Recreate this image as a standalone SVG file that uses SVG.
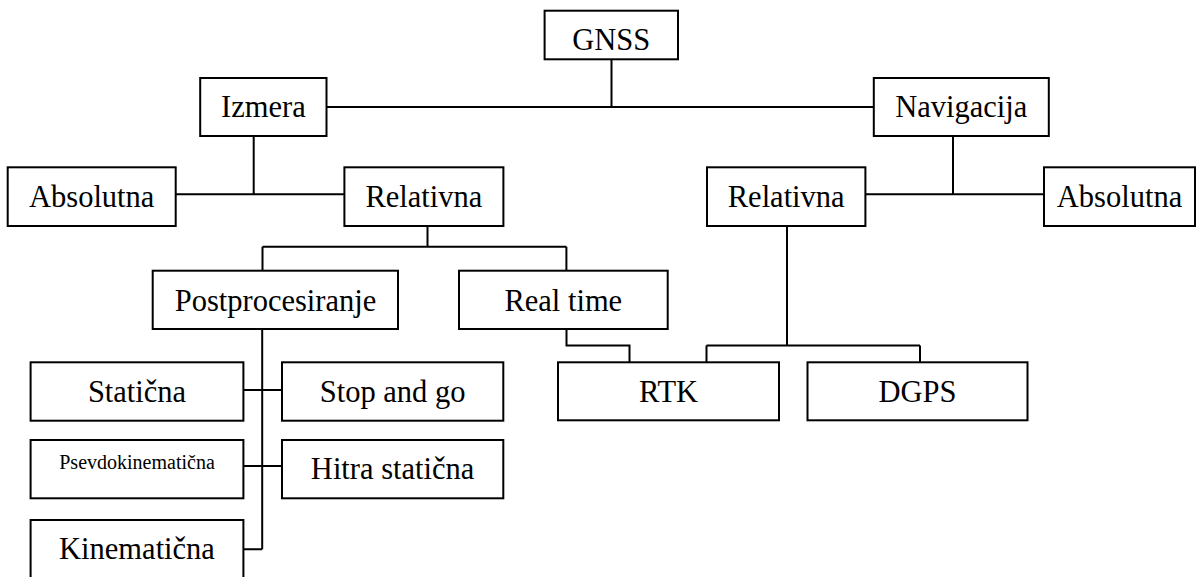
<svg xmlns="http://www.w3.org/2000/svg" width="1203" height="577" viewBox="0 0 1203 577">
<style>
rect{fill:#fff;stroke:#000;stroke-width:2}
text{font-family:"Liberation Serif","Times New Roman",serif;font-size:30.5px;fill:#000;text-anchor:middle}
.small{font-size:20px}
#connectors path{fill:none;stroke:#000;stroke-width:2}
</style>
<rect x="0" y="0" width="1203" height="577" style="stroke:none"/>
<g id="connectors">
<path d="M611.5,59.3V107M326.5,107H873.8"/>
<path d="M253.7,136V194.3M175.7,194.3H344.4"/>
<path d="M953,136V194.3M865.4,194.3H1044"/>
<path d="M427.5,226V246.7M262.5,246.7H566.4M262.5,246.7V270.7M566.4,246.7V270.7"/>
<path d="M566.5,329V345.5H629.5V362.3"/>
<path d="M787,226V345.5M706.5,345.5H920M706.5,345.5V362.3M920,345.5V362.3"/>
<path d="M262.2,329V549.3M243.4,390H282M243.4,466H282M243.4,549.3H262.2"/>
</g>
<g id="gnss"><rect x="544.6" y="10.7" width="133.4" height="48.6"/><text x="611.3" y="50">GNSS</text></g>
<g id="izmera"><rect x="200.2" y="78" width="126.3" height="58"/><text x="263.4" y="117">Izmera</text></g>
<g id="navigacija"><rect x="873.8" y="78" width="175" height="58"/><text x="961.3" y="117">Navigacija</text></g>
<g id="absolutna-izmera"><rect x="7.7" y="167.3" width="168" height="58.7"/><text x="91.7" y="206.7">Absolutna</text></g>
<g id="relativna-izmera"><rect x="344.4" y="167.3" width="159" height="58.7"/><text x="423.9" y="206.7">Relativna</text></g>
<g id="relativna-navigacija"><rect x="707" y="167.3" width="158.4" height="58.7"/><text x="786.2" y="206.7">Relativna</text></g>
<g id="absolutna-navigacija"><rect x="1044" y="167.3" width="151" height="58.7"/><text x="1119.5" y="206.7">Absolutna</text></g>
<g id="postprocesiranje"><rect x="152.7" y="270.7" width="245.3" height="58.3"/><text x="275.5" y="310.5">Postprocesiranje</text></g>
<g id="real-time"><rect x="459" y="270.7" width="208.7" height="58.3"/><text x="563.3" y="310.5">Real time</text></g>
<g id="staticna"><rect x="30.6" y="362.3" width="212.8" height="58.4"/><text x="137" y="401.5">Statična</text></g>
<g id="stop-and-go"><rect x="282" y="362.3" width="221.3" height="58.4"/><text x="392.6" y="401.5">Stop and go</text></g>
<g id="rtk"><rect x="558" y="362.3" width="221" height="58"/><text x="668.5" y="401.5">RTK</text></g>
<g id="dgps"><rect x="807.5" y="362.3" width="220" height="58"/><text x="917.5" y="401.5">DGPS</text></g>
<g id="psevdokinematicna"><rect x="30.6" y="440" width="212.8" height="58.3"/><text class="small" x="137" y="469.3">Psevdokinematična</text></g>
<g id="hitra-staticna"><rect x="282" y="440" width="221.3" height="58.3"/><text x="392.6" y="478.5">Hitra statična</text></g>
<g id="kinematicna"><rect x="30.6" y="520" width="212.8" height="60"/><text x="137" y="558.5">Kinematična</text></g>
</svg>
